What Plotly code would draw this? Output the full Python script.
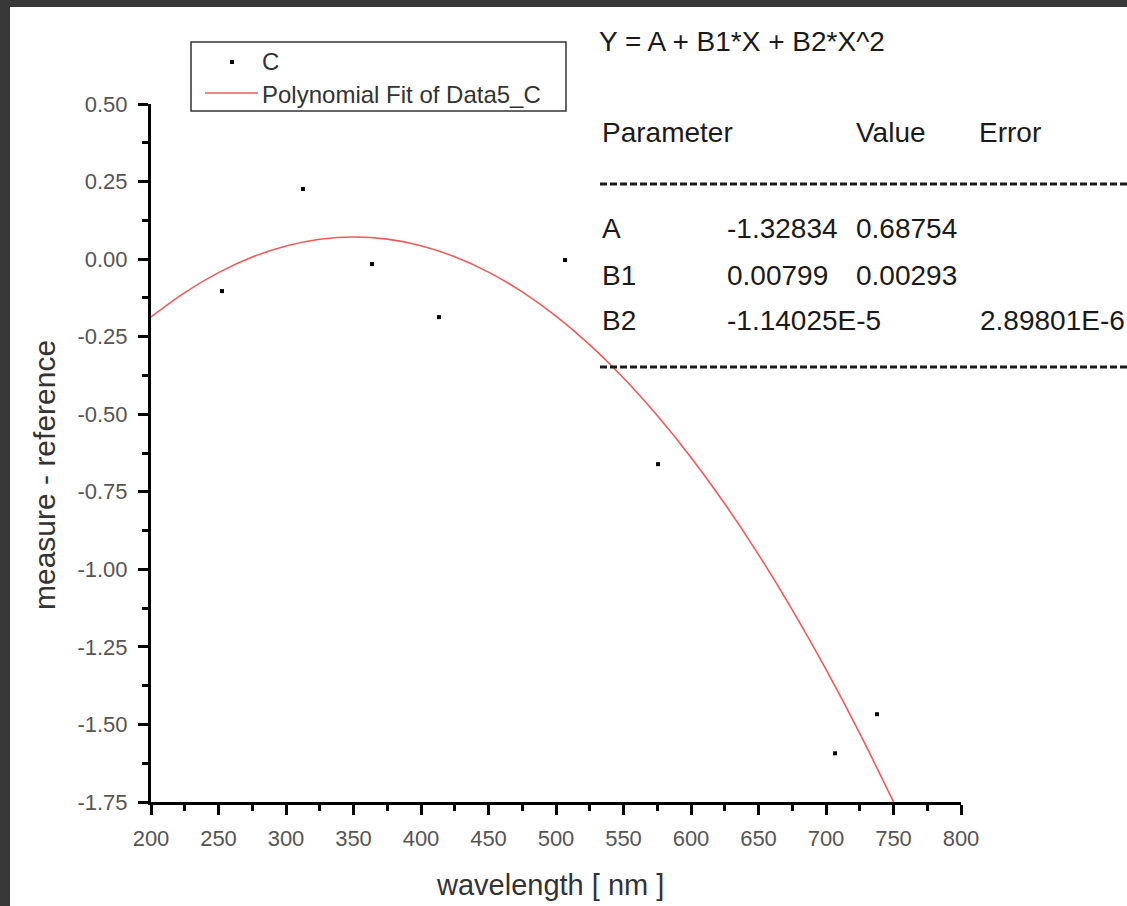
import plotly.graph_objects as go

# ---- data ----
wavelength = [252.6, 312.6, 363.7, 413.3, 506.7, 575.6, 706.7, 737.8]
diff_c = [-0.103, 0.226, -0.016, -0.187, -0.003, -0.661, -1.593, -1.467]

fit_x = [200, 225, 250, 275, 300, 325, 350, 375, 400, 425, 450, 475, 500,
         525, 550, 575, 600, 625, 650, 675, 700, 725, 750]
fit_y = [-0.1864, -0.1078, -0.0435, 0.0066, 0.0424, 0.0640, 0.0714, 0.0644,
         0.0433, 0.0078, -0.0419, -0.1058, -0.1840, -0.2764, -0.3831, -0.5041,
         -0.6392, -0.7887, -0.9524, -1.1304, -1.3226, -1.5290, -1.7498]

x_tickvals = [200, 250, 300, 350, 400, 450, 500, 550, 600, 650, 700, 750, 800]
x_ticktext = ["200", "250", "300", "350", "400", "450", "500", "550", "600",
              "650", "700", "750", "800"]
y_tickvals = [0.5, 0.25, 0.0, -0.25, -0.5, -0.75, -1.0, -1.25, -1.5, -1.75]
y_ticktext = ["0.50", "0.25", "0.00", "-0.25", "-0.50", "-0.75", "-1.00",
              "-1.25", "-1.50", "-1.75"]

series_names = ["C", "Polynomial Fit of Data5_C"]
point_color = "black"
fit_color = "#f05a5a"

table_rows = [
    ("A", "-1.32834", "0.68754", ""),
    ("B1", "0.00799", "0.00293", ""),
    ("B2", "-1.14025E-5", "", "2.89801E-6"),
]

# ---- layout geometry (pixels) ----
W, H = 1127, 906
L, R, T, B = 151, 961, 104, 802
PW, PH = R - L, B - T


def px(x):
    return (x - L) / PW


def py(y):
    return (B - y) / PH


FONT = "Liberation Sans, Arial, sans-serif"

fig = go.Figure()
fig.add_trace(go.Scatter(
    x=wavelength, y=diff_c, mode="markers", name=series_names[0],
    marker=dict(symbol="square", size=4, color=point_color),
    showlegend=False,
))
fig.add_trace(go.Scatter(
    x=fit_x, y=fit_y, mode="lines", name=series_names[1],
    line=dict(color=fit_color, width=1.6, shape="spline"),
    showlegend=False,
))

axis_common = dict(
    showline=True, linecolor="black", linewidth=3,
    ticks="outside", ticklen=10, tickwidth=2.5, tickcolor="black",
    showgrid=False, zeroline=False, mirror=False,
    tickfont=dict(family=FONT, size=22, color="#555555"),
)

fig.update_xaxes(
    range=[200, 800], tickmode="array", tickvals=x_tickvals,
    ticktext=x_ticktext, ticklabelstandoff=5,
    minor=dict(ticks="outside", ticklen=6, tickwidth=2.5, tickcolor="black",
               tick0=200, dtick=25, showgrid=False),
    **axis_common,
)
fig.update_yaxes(
    range=[-1.75, 0.5], tickmode="array", tickvals=y_tickvals,
    ticktext=y_ticktext, ticklabelstandoff=6,
    minor=dict(ticks="outside", ticklen=6, tickwidth=2.5, tickcolor="black",
               tick0=0, dtick=0.125, showgrid=False),
    **axis_common,
)

ann = []
# axis titles
ann.append(dict(text="measure - reference", x=px(45), y=py(475),
                xref="paper", yref="paper", textangle=-90, showarrow=False,
                font=dict(family=FONT, size=30, color="#333333"),
                xanchor="center", yanchor="middle"))
ann.append(dict(text="wavelength [ nm ]", x=px(550), y=py(885),
                xref="paper", yref="paper", showarrow=False,
                font=dict(family=FONT, size=29, color="#333333"),
                xanchor="center", yanchor="middle"))

tfont = dict(family=FONT, size=28, color="#1a1a1a")
lfont = dict(family=FONT, size=24, color="#333333")


def text_at(s, x, y, font=tfont):
    ann.append(dict(text=s, x=px(x), y=py(y), xref="paper", yref="paper",
                    showarrow=False, font=font, xanchor="left",
                    yanchor="middle", borderpad=0))


text_at("Y = A + B1*X + B2*X^2", 598, 42)
text_at("Parameter", 601, 132)
text_at("Value", 855, 132)
text_at("Error", 978, 132)
row_y = [228, 275, 320]
for (name, val, err, err2), yy in zip(table_rows, row_y):
    text_at(name, 601, yy)
    text_at(val, 726, yy)
    if err:
        text_at(err, 855, yy)
    if err2:
        text_at(err2, 979, yy)

# legend texts
text_at(series_names[0], 261, 62, lfont)
text_at(series_names[1], 261, 94, lfont)

shapes = [
    # legend box and symbols
    dict(type="rect", xref="paper", yref="paper", x0=px(191), x1=px(566),
         y0=py(111), y1=py(42), fillcolor="white",
         line=dict(color="#333333", width=1.5)),
    dict(type="rect", xref="paper", yref="paper", x0=px(230), x1=px(234),
         y0=py(64), y1=py(60), fillcolor=point_color, line=dict(width=0)),
    dict(type="line", xref="paper", yref="paper", x0=px(205), x1=px(258),
         y0=py(93), y1=py(93), line=dict(color=fit_color, width=1.6)),
    # table separators
    dict(type="line", xref="paper", yref="paper", x0=px(600), x1=px(W + 5),
         y0=py(184), y1=py(184), line=dict(color="#1a1a1a", width=3,
                                            dash="7px,3px")),
    dict(type="line", xref="paper", yref="paper", x0=px(600), x1=px(W + 5),
         y0=py(367), y1=py(367), line=dict(color="#1a1a1a", width=3,
                                            dash="7px,3px")),
    # dark window frame
    dict(type="rect", xref="paper", yref="paper", x0=px(-5), x1=px(10),
         y0=py(H + 5), y1=py(-5), fillcolor="#383838", line=dict(width=0),
         layer="above"),
    dict(type="rect", xref="paper", yref="paper", x0=px(-5), x1=px(W + 5),
         y0=py(7), y1=py(-5), fillcolor="#383838", line=dict(width=0),
         layer="above"),
]

fig.update_layout(
    width=W, height=H,
    margin=dict(l=L, r=W - R, t=T, b=H - B, pad=0),
    paper_bgcolor="white", plot_bgcolor="white",
    font=dict(family=FONT),
    showlegend=False,
    annotations=ann,
    shapes=shapes,
)

fig.write_html(
    "out.html",
    config={"displayModeBar": False},
    post_script="document.body.style.margin='0';"
                "document.body.style.overflow='hidden';",
)
